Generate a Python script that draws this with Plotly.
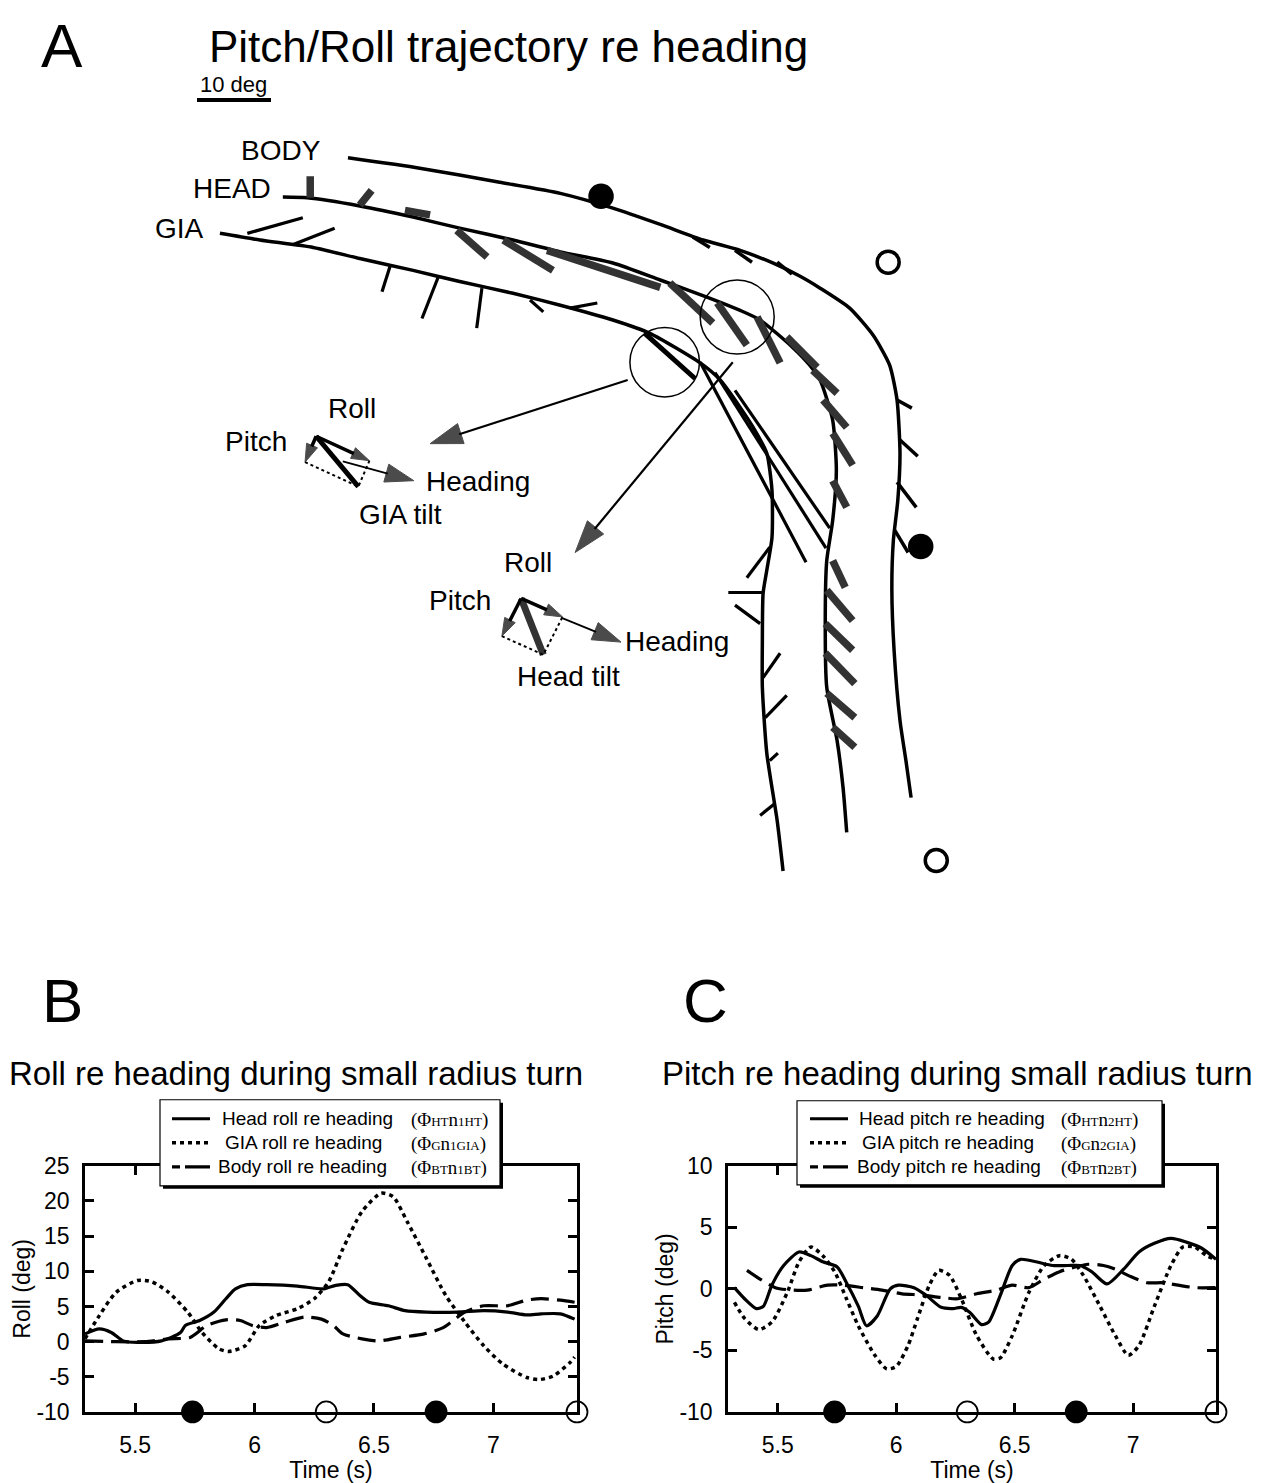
import plotly.graph_objects as go

W, H = 1270, 1483
FONT = "Liberation Sans, Arial, Helvetica, sans-serif"
SERIF = "Liberation Serif, Times New Roman, serif"

# vertical pixel frame of the page (top pad and usable span)
TOP_PAD, SPAN = 13.0, 1456.0

# ---------------- Panel A: trajectories re heading (deg) ----------------
body_x = [20.4, 30.1, 40.9, 49.1, 56.2, 62.6, 68.4, 73.4, 77.8, 81.5, 84.2, 88.2,
          91.4, 93.6, 94.6, 95.0, 94.7, 94.1, 93.9, 94.2, 95.0, 95.8, 96.5]
body_y = [-7.8, -9.2, -11.1, -12.6, -14.6, -16.8, -18.9, -20.3, -22.0, -23.8, -25.4, -28.1,
          -31.8, -35.8, -40.5, -47.7, -54.1, -59.5, -66.2, -74.3, -83.8, -89.2, -94.2]
head_x = [11.6, 14.9, 22.0, 29.2, 35.5, 42.7, 49.1, 56.2, 62.6, 68.9, 73.4, 76.1,
          80.5, 82.8, 84.2, 85.9, 86.4, 85.9, 85.1, 84.9, 85.1, 86.5, 87.3, 87.8]
head_y = [-13.1, -13.2, -14.3, -15.8, -17.3, -18.9, -20.5, -22.0, -24.3, -26.6, -28.4, -29.7,
          -33.4, -35.8, -37.8, -43.2, -50.0, -56.8, -62.2, -70.3, -79.3, -86.5, -92.8, -98.9]
gia_x = [3.1, 8.5, 15.7, 22.0, 29.2, 35.5, 42.7, 49.1, 56.2, 61.2, 68.0, 70.7,
         73.4, 75.4, 77.0, 77.7, 77.7, 77.0, 76.5, 76.4, 76.4, 77.0, 78.4, 79.2]
gia_y = [-18.0, -18.9, -19.9, -21.4, -23.0, -24.5, -26.1, -27.7, -29.7, -31.5, -35.5, -37.8,
         -41.5, -44.6, -47.7, -52.7, -59.1, -63.5, -66.6, -73.0, -79.3, -88.2, -97.3, -104.1]

# tilt vectors drawn along each trajectory: (x0, y0, x1, y1) in deg
body_ticks = [(67.0, -18.5, 69.3, -19.9), (72.7, -20.3, 75.0, -21.9), (78.4, -21.9, 80.4, -23.5),
              (94.6, -40.5, 96.6, -41.6), (95.0, -45.9, 97.4, -48.1), (94.6, -51.6, 97.2, -55.0),
              (94.3, -58.1, 96.1, -61.1)]
head_ticks = [(15.3, -13.2, 15.3, -10.3), (22.0, -14.2, 23.6, -12.2), (28.1, -14.9, 31.5, -15.5),
              (35.1, -17.6, 39.2, -21.2), (41.4, -18.9, 48.1, -23.0), (47.3, -20.3, 62.6, -25.3),
              (63.9, -24.7, 69.7, -30.1), (70.3, -27.4, 74.3, -33.1), (75.7, -29.3, 78.8, -35.5),
              (79.7, -32.0, 83.8, -36.1), (83.2, -36.5, 86.5, -39.6), (84.6, -40.5, 87.8, -44.2),
              (85.9, -45.0, 88.6, -49.3), (85.9, -51.4, 87.8, -55.0), (85.9, -62.2, 87.6, -65.8),
              (85.1, -66.2, 88.6, -70.3), (84.9, -70.7, 88.6, -74.3), (84.9, -74.7, 88.9, -78.8),
              (85.1, -80.1, 88.9, -83.4), (85.9, -84.7, 88.9, -87.4)]
gia_ticks = [(6.8, -18.0, 14.3, -15.9), (13.0, -19.5, 18.6, -17.3), (26.1, -22.4, 25.0, -25.9),
             (32.6, -23.9, 30.4, -29.5), (38.5, -25.4, 37.8, -30.8), (45.0, -27.0, 46.8, -28.6),
             (50.4, -28.1, 54.1, -27.4), (68.0, -35.4, 82.3, -62.4), (70.0, -36.8, 85.0, -60.5),
             (72.7, -39.2, 85.5, -57.8), (77.4, -60.4, 74.3, -64.5), (76.5, -66.5, 71.8, -66.5),
             (76.1, -70.7, 72.7, -68.2), (76.5, -78.0, 78.8, -74.7), (76.8, -83.4, 79.7, -80.4),
             (77.4, -89.2, 78.5, -88.2), (78.1, -95.0, 76.1, -96.6)]
gia_peak_tick = [(60.5, -31.5, 67.3, -37.6)]

# event markers on the body trajectory (filled / open)
event_a_x = [54.6, 93.4, 97.8, 99.9]
event_a_y = [-13.0, -21.9, -60.3, -102.7]
event_filled = [True, False, True, False]

# magnified regions: (cx, cy, r) and the arrows leading from them (tail -> head)
loupes = [(63.2, -35.4, 4.7), (73.0, -29.3, 5.0)]
loupe_arrows = [(58.2, -37.8, 31.5, -46.4), (72.4, -35.4, 51.1, -61.1)]

# tilt decomposition insets: origin, pitch and roll components (deg)
gia_inset = dict(origin=(16.1, -45.4), pitch=(-1.5, -3.5), roll=(7.2, -3.3),
                 heading=(19.7, -48.8, 29.3, -51.4))
head_inset = dict(origin=(43.8, -67.3), pitch=(-2.6, -5.1), roll=(5.6, -2.5),
                  heading=(49.2, -69.9, 57.3, -73.2))

scale_bar_deg = [0, 10]

# ---------------- Panel B: roll re heading ----------------
t_head_roll = [5.29, 5.35, 5.40, 5.45, 5.51, 5.61, 5.69, 5.71, 5.77, 5.83, 5.88, 5.92, 5.97, 6.05,
               6.18, 6.29, 6.34, 6.39, 6.44, 6.48, 6.56, 6.63, 6.72, 6.85, 6.96, 7.06, 7.14, 7.20,
               7.28, 7.34]
head_roll = [1.1, 1.8, 1.3, 0.1, -0.1, 0.1, 1.3, 2.3, 3.0, 4.2, 6.1, 7.5, 8.1, 8.1,
             7.9, 7.5, 8.0, 8.1, 6.6, 5.6, 5.1, 4.4, 4.2, 4.2, 4.4, 4.2, 3.8, 3.95,
             3.95, 3.2]
t_gia_roll = [5.29, 5.35, 5.42, 5.51, 5.57, 5.64, 5.72, 5.78, 5.85, 5.89, 5.96, 6.02, 6.09, 6.18,
              6.25, 6.31, 6.37, 6.45, 6.53, 6.58, 6.64, 6.72, 6.80, 6.88, 6.96, 7.04, 7.14, 7.19,
              7.25, 7.32, 7.34]
gia_roll = [0.4, 3.7, 7.0, 8.7, 8.5, 7.0, 4.2, 1.3, -1.0, -1.4, -0.6, 2.3, 3.7, 4.7,
            6.1, 8.5, 13.2, 18.5, 21.1, 20.6, 17.0, 11.8, 6.6, 2.8, -0.6, -3.2, -5.1, -5.4,
            -4.9, -3.0, -2.2]
t_body_roll = [5.29, 5.42, 5.54, 5.64, 5.73, 5.80, 5.88, 5.94, 5.99, 6.05, 6.13, 6.21, 6.28, 6.33,
               6.37, 6.45, 6.52, 6.61, 6.71, 6.79, 6.88, 6.96, 7.06, 7.14, 7.20, 7.28, 7.34]
body_roll = [0.1, 0.0, 0.0, 0.4, 0.6, 2.3, 3.1, 3.0, 2.3, 2.0, 2.8, 3.5, 3.2, 2.3,
             1.1, 0.4, 0.1, 0.6, 1.1, 2.0, 4.2, 5.1, 5.1, 5.9, 6.1, 5.9, 5.6]

# ---------------- Panel C: pitch re heading ----------------
t_head_pitch = [5.317, 5.36, 5.41, 5.44, 5.475, 5.525, 5.59, 5.64, 5.69, 5.75, 5.79, 5.84, 5.875,
                5.92, 5.975, 6.01, 6.075, 6.125, 6.19, 6.24, 6.275, 6.31, 6.36, 6.39, 6.44, 6.49,
                6.525, 6.59, 6.66, 6.725, 6.775, 6.825, 6.89, 6.96, 7.025, 7.09, 7.16, 7.225,
                7.29, 7.35]
head_pitch = [0.1, -0.8, -1.6, -1.4, 0.3, 1.9, 3.0, 2.7, 2.2, 1.8, 0.5, -1.4, -3.0,
              -2.2, 0.0, 0.3, 0.1, -0.5, -1.5, -1.6, -1.5, -1.9, -2.9, -2.7, -0.5, 1.9,
              2.4, 2.2, 1.9, 1.9, 1.9, 1.4, 0.4, 1.6, 3.0, 3.7, 4.1, 3.8,
              3.3, 2.4]
t_gia_pitch = [5.317, 5.36, 5.42, 5.475, 5.54, 5.59, 5.64, 5.69, 5.74, 5.79, 5.84, 5.91, 5.96,
               6.0, 6.05, 6.09, 6.14, 6.18, 6.225, 6.275, 6.34, 6.41, 6.44, 6.49, 6.56, 6.625,
               6.69, 6.74, 6.79, 6.86, 6.925, 6.98, 7.025, 7.09, 7.16, 7.21, 7.26, 7.31, 7.35]
gia_pitch = [-1.1, -2.4, -3.3, -2.7, -0.3, 2.2, 3.4, 2.7, 1.4, -0.8, -3.0, -5.4, -6.5,
             -6.3, -4.6, -2.4, 0.3, 1.5, 1.1, -0.8, -3.8, -5.7, -5.6, -3.8, -0.3, 1.9,
             2.7, 2.4, 1.1, -1.4, -3.8, -5.4, -4.6, -1.4, 1.9, 3.4, 3.4, 2.7, 2.4]
t_body_pitch = [5.37, 5.425, 5.49, 5.56, 5.625, 5.71, 5.775, 5.86, 5.94, 6.025, 6.11, 6.19, 6.26,
                6.34, 6.425, 6.49, 6.56, 6.625, 6.69, 6.76, 6.81, 6.875, 6.925, 6.99, 7.06,
                7.125, 7.19, 7.26, 7.35]
body_pitch = [1.5, 0.8, 0.1, -0.1, -0.1, 0.3, 0.3, 0.1, -0.1, -0.4, -0.5, -0.7, -0.8,
              -0.4, -0.1, 0.3, 0.1, 0.8, 1.4, 1.8, 2.0, 1.9, 1.6, 1.0, 0.5,
              0.5, 0.3, 0.1, 0.1]

# events on the time axis
event_times = [5.74, 6.30, 6.76, 7.35]

time_ticks = [5.5, 6, 6.5, 7]
time_ticktext = ["5.5", "6", "6.5", "7"]
time_range = [5.29, 7.35]
roll_ticks = [-10, -5, 0, 5, 10, 15, 20, 25]
pitch_ticks = [-10, -5, 0, 5, 10]


def px(x):
    return x / W


def py(y):
    return 1 - (y - TOP_PAD) / SPAN


def segments(ticks):
    xs, ys = [], []
    for x0, y0, x1, y1 in ticks:
        xs += [x0, x1, None]
        ys += [y0, y1, None]
    return xs, ys


fig = go.Figure()
A = dict(xaxis="x3", yaxis="y3")


def arrow(x0, y0, x1, y1, width, head):
    # line with a filled arrowhead at (x1, y1), oriented along the segment
    fig.add_trace(go.Scatter(
        x=[x0, x1], y=[y0, y1], mode="lines+markers", line=dict(color="black", width=width),
        marker=dict(symbol="arrow", size=[0, head], angleref="previous", color="black",
                    line=dict(width=1, color="black")), **A))


# trajectories
for xs, ys in [(body_x, body_y), (head_x, head_y), (gia_x, gia_y)]:
    fig.add_trace(go.Scatter(x=xs, y=ys, mode="lines",
                             line=dict(color="black", width=3.5, shape="spline", smoothing=0.6), **A))

for ticks, col, wd in [(body_ticks, "black", 3.5), (head_ticks, "#333333", 7.5),
                       (gia_ticks, "black", 3.2), (gia_peak_tick, "black", 5)]:
    xs, ys = segments(ticks)
    fig.add_trace(go.Scatter(x=xs, y=ys, mode="lines", line=dict(color=col, width=wd), **A))

fig.add_trace(go.Scatter(
    x=event_a_x, y=event_a_y, mode="markers",
    marker=dict(size=22, color=["black" if f else "white" for f in event_filled],
                line=dict(color="black", width=3.5)), **A))

# scale bar
fig.add_trace(go.Scatter(x=scale_bar_deg, y=[0, 0], mode="lines", line=dict(color="black", width=4), **A))

for x0, y0, x1, y1 in loupe_arrows:
    arrow(x0, y0, x1, y1, 2.2, 34)

# tilt insets: pitch + roll components and their resultant tilt
for ins, tilt_col, tilt_w in [(gia_inset, "black", 5), (head_inset, "#333333", 7)]:
    ox, oy = ins["origin"]
    pxv, pyv = ins["pitch"]
    rxv, ryv = ins["roll"]
    tx, ty = ox + pxv + rxv, oy + pyv + ryv
    fig.add_trace(go.Scatter(x=[ox, tx], y=[oy, ty], mode="lines", line=dict(color=tilt_col, width=tilt_w), **A))
    fig.add_trace(go.Scatter(x=[ox + pxv, tx, ox + rxv], y=[oy + pyv, ty, oy + ryv], mode="lines",
                             line=dict(color="black", width=2, dash="3px,3px"), **A))
    arrow(ox, oy, ox + pxv, oy + pyv, 3.5, 19)
    arrow(ox, oy, ox + rxv, oy + ryv, 3.5, 19)
    hx0, hy0, hx1, hy1 = ins["heading"]
    arrow(hx0, hy0, hx1, hy1, 1.8, 30)

shapes = []
annotations = []

for cx, cy, r in loupes:
    shapes.append(dict(type="circle", xref="x3", yref="y3", x0=cx - r, x1=cx + r, y0=cy - r, y1=cy + r,
                       line=dict(color="black", width=1.5)))


def label(text, x, y, size, xanchor="center", family=FONT):
    annotations.append(dict(text=text, x=px(x), y=py(y), xref="paper", yref="paper", showarrow=False,
                            xanchor=xanchor, yanchor="middle", font=dict(family=family, size=size, color="black")))


label("A", 62, 45, 62)
label("Pitch/Roll trajectory re heading", 207, 46, 44, "left")
label("10 deg", 233, 84, 22)
label("BODY", 323, 150, 28, "right")
label("HEAD", 273, 188, 28, "right")
label("GIA", 206, 228, 28, "right")
label("Roll", 352, 408, 28)
label("Pitch", 256, 441, 28)
label("Heading", 478, 481, 28)
label("GIA tilt", 400, 514, 28)
label("Roll", 528, 562, 28)
label("Pitch", 460, 600, 28)
label("Heading", 677, 641, 28)
label("Head tilt", 568, 676, 28)

label("B", 62, 1000, 62)
label("C", 705, 1000, 62)
label("Roll re heading during small radius turn", 296, 1073, 33)
label("Pitch re heading during small radius turn", 958, 1073, 33)

# ---------------- time series ----------------
SOLID = dict(color="black", width=3.2)
DOT = dict(color="black", width=3.5, dash="4px,4px")
DASH = dict(color="black", width=3.2, dash="18px,8px")
DASH_KEY = dict(color="black", width=3.2, dash="8px,5px,26px,5px")

series_b = [(t_head_roll, head_roll, SOLID), (t_gia_roll, gia_roll, DOT), (t_body_roll, body_roll, DASH)]
series_c = [(t_head_pitch, head_pitch, SOLID), (t_gia_pitch, gia_pitch, DOT), (t_body_pitch, body_pitch, DASH)]

for (xa, ya), series in [(("x", "y"), series_b), (("x2", "y2"), series_c)]:
    for tt, vv, ln in series:
        fig.add_trace(go.Scatter(x=tt, y=vv, mode="lines", line=dict(shape="spline", smoothing=0.7, **ln),
                                 xaxis=xa, yaxis=ya))
    fig.add_trace(go.Scatter(x=event_times, y=[-10] * len(event_times), mode="markers", cliponaxis=False,
                             marker=dict(size=21, color=["black", "white", "black", "white"],
                                         line=dict(color="black", width=1.8)),
                             xaxis=xa, yaxis=ya))


def formula(axis_no, source):
    # Φ with small-capital index letters, e.g. (ΦHT n1HT)
    small = '<span style="font-size:13px">{}</span>'
    index = axis_no + ("GIA" if source == "G" else source)
    return "(Φ" + small.format(source) + "n" + small.format(index) + ")"


# legends (box with drop shadow)
legend_b = dict(left=160, top=1099, right=500, bottom=1185,
                rows=[("Head roll re heading", formula("1", "HT"), SOLID, 220, 1118),
                      ("GIA roll re heading", formula("1", "G"), DOT, 223, 1142),
                      ("Body roll re heading", formula("1", "BT"), DASH_KEY, 216, 1166)],
                sample=(172, 210), formula_x=409)
legend_c = dict(left=797, top=1100, right=1162, bottom=1184,
                rows=[("Head pitch re heading", formula("2", "HT"), SOLID, 857, 1118),
                      ("GIA pitch re heading", formula("2", "G"), DOT, 860, 1142),
                      ("Body pitch re heading", formula("2", "BT"), DASH_KEY, 855, 1166)],
                sample=(810, 848), formula_x=1059)

for lg in [legend_b, legend_c]:
    shapes.append(dict(type="rect", xref="paper", yref="paper", layer="above",
                       x0=px(lg["left"] + 3), x1=px(lg["right"] + 3), y0=py(lg["bottom"] + 3), y1=py(lg["top"] + 3),
                       fillcolor="black", line=dict(width=0)))
    shapes.append(dict(type="rect", xref="paper", yref="paper", layer="above",
                       x0=px(lg["left"]), x1=px(lg["right"]), y0=py(lg["bottom"]), y1=py(lg["top"]),
                       fillcolor="white", line=dict(color="black", width=1.2)))
    for name, ftext, ln, tx, ty in lg["rows"]:
        s0, s1 = lg["sample"]
        shapes.append(dict(type="line", xref="paper", yref="paper", layer="above",
                           x0=px(s0), x1=px(s1), y0=py(ty), y1=py(ty),
                           line=dict(color="black", width=ln["width"], dash=ln.get("dash", "solid"))))
        label(name, tx, ty, 19, "left")
        label(ftext, lg["formula_x"], ty + 1, 19, "left", SERIF)

AXIS_FONT = dict(family=FONT, size=23, color="black")


def frame_axis(**kw):
    base = dict(showline=True, linewidth=2.5, linecolor="black", mirror="allticks", ticks="inside",
                ticklen=9, tickwidth=2.5, tickcolor="black", showgrid=False, zeroline=False,
                tickfont=AXIS_FONT)
    base.update(kw)
    return base


def time_axis(domain, anchor):
    return frame_axis(domain=domain, anchor=anchor, range=time_range, tickvals=time_ticks,
                      ticktext=time_ticktext, ticklabelstandoff=11,
                      title=dict(text="Time (s)", font=AXIS_FONT, standoff=2))


def value_axis(domain, anchor, ticks, title):
    return frame_axis(domain=domain, anchor=anchor, range=[ticks[0], ticks[-1]], tickvals=ticks,
                      ticktext=[str(v) for v in ticks], ticklabelstandoff=8,
                      title=dict(text=title, font=AXIS_FONT, standoff=0))


ydom = [py(1411), py(1165)]
fig.update_layout(
    width=W, height=H, margin=dict(l=0, r=0, t=0, b=0),
    paper_bgcolor="white", plot_bgcolor="rgba(0,0,0,0)", showlegend=False,
    xaxis=time_axis([px(85), px(577)], "y"),
    yaxis=value_axis(ydom, "x", roll_ticks, "Roll (deg)"),
    xaxis2=time_axis([px(728), px(1216)], "y2"),
    yaxis2=value_axis(ydom, "x2", pitch_ticks, "Pitch (deg)"),
    xaxis3=dict(domain=[0, 1], anchor="y3", range=[-197 / 7.4, 1073 / 7.4], visible=False),
    yaxis3=dict(domain=[py(960), 1], anchor="x3", range=[(100 - 960) / 7.4, (100 - TOP_PAD) / 7.4],
                visible=False),
    shapes=shapes, annotations=annotations,
)

fig.write_html("out.html")
